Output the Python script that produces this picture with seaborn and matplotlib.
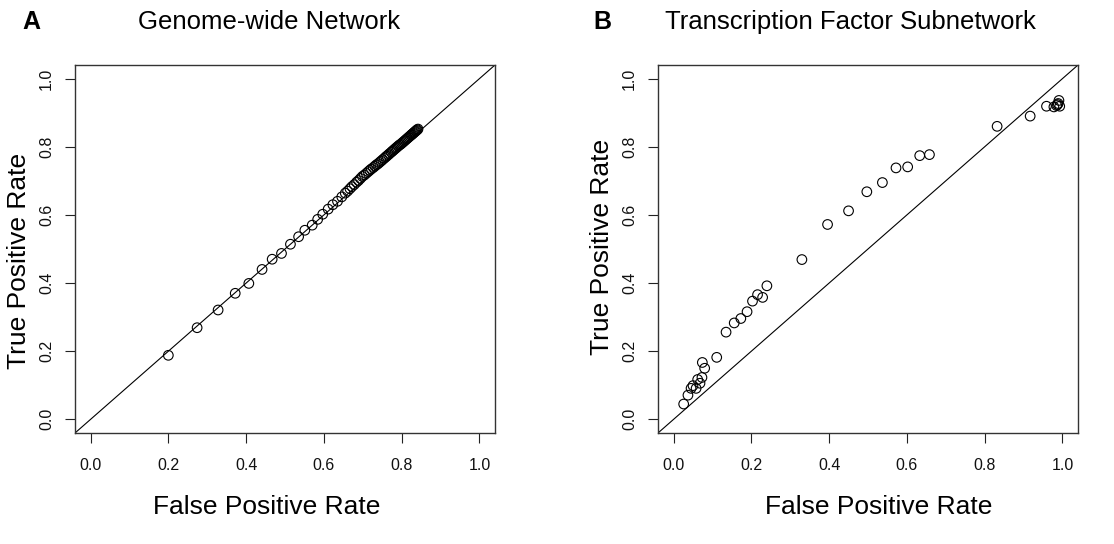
import matplotlib
matplotlib.use("Agg")
import matplotlib.pyplot as plt
import seaborn as sns
import pandas as pd

sns.set_theme(style="white")
plt.rcParams["font.family"] = ["Liberation Sans", "DejaVu Sans"]
plt.rcParams["text.color"] = "black"
plt.rcParams["axes.labelcolor"] = "black"
plt.rcParams["xtick.color"] = "black"
plt.rcParams["ytick.color"] = "black"

# ---- Data ----
genome_fpr = [0.200, 0.274, 0.328, 0.372, 0.407, 0.441, 0.467, 0.491, 0.514, 0.535,
              0.551, 0.570, 0.584, 0.597, 0.611, 0.623, 0.635, 0.646,
              0.655, 0.661, 0.667, 0.672, 0.678, 0.684, 0.689, 0.694, 0.699, 0.704,
              0.709, 0.714, 0.718, 0.722, 0.727, 0.731, 0.735, 0.739, 0.743, 0.747,
              0.751, 0.755, 0.759, 0.762, 0.766, 0.769, 0.773, 0.776, 0.779, 0.782,
              0.785, 0.788, 0.791, 0.794, 0.797, 0.800, 0.803, 0.806, 0.809, 0.812,
              0.815, 0.818, 0.821, 0.824, 0.826, 0.828, 0.830, 0.832, 0.834, 0.836,
              0.838, 0.840, 0.842]
genome_tpr = [0.188, 0.269, 0.321, 0.370, 0.399, 0.440, 0.470, 0.487, 0.514, 0.536,
              0.555, 0.570, 0.587, 0.602, 0.617, 0.630, 0.640, 0.653,
              0.664, 0.670, 0.677, 0.683, 0.689, 0.696, 0.701, 0.707, 0.713, 0.717,
              0.722, 0.727, 0.731, 0.735, 0.739, 0.743, 0.747, 0.750, 0.754, 0.758,
              0.762, 0.766, 0.770, 0.773, 0.777, 0.780, 0.784, 0.787, 0.790, 0.793,
              0.796, 0.799, 0.802, 0.805, 0.807, 0.810, 0.813, 0.816, 0.819, 0.822,
              0.825, 0.828, 0.831, 0.834, 0.836, 0.838, 0.840, 0.842, 0.844, 0.846,
              0.848, 0.850, 0.852]

tf_fpr = [0.026, 0.037, 0.045, 0.050, 0.058, 0.062, 0.068, 0.073, 0.074, 0.080,
          0.111, 0.135, 0.156, 0.173, 0.189, 0.203, 0.216, 0.229, 0.240, 0.330,
          0.396, 0.450, 0.497, 0.537, 0.572, 0.602, 0.633, 0.658, 0.832, 0.917,
          0.959, 0.978, 0.985, 0.989, 0.991, 0.993, 0.987]
tf_tpr = [0.045, 0.071, 0.091, 0.099, 0.091, 0.117, 0.106, 0.123, 0.167, 0.150,
          0.182, 0.256, 0.283, 0.296, 0.316, 0.347, 0.366, 0.358, 0.392, 0.469,
          0.572, 0.612, 0.668, 0.695, 0.738, 0.741, 0.774, 0.777, 0.860, 0.890,
          0.919, 0.917, 0.921, 0.927, 0.936, 0.919, 0.924]

tick_vals = [0.0, 0.2, 0.4, 0.6, 0.8, 1.0]
tick_labels = ["0.0", "0.2", "0.4", "0.6", "0.8", "1.0"]

panels = [
    dict(letter="A", title="Genome-wide Network", x=genome_fpr, y=genome_tpr,
         left=75, title_x=269.5, letter_x=31, xlab_x=0.457, ylab_y=0.467),
    dict(letter="B", title="Transcription Factor Subnetwork", x=tf_fpr, y=tf_tpr,
         left=658, title_x=850.5, letter_x=602, xlab_x=0.526, ylab_y=0.505),
]

W, H = 1114, 544
fig = plt.figure(figsize=(W / 100, H / 100), dpi=100)
fig.patch.set_facecolor("white")

ax_top, ax_bottom, ax_w = 65, 433, 420

for p in panels:
    ax = fig.add_axes([p["left"] / W, 1 - ax_bottom / H, ax_w / W, (ax_bottom - ax_top) / H])
    df = pd.DataFrame({"fpr": p["x"], "tpr": p["y"]})
    sns.scatterplot(data=df, x="fpr", y="tpr", ax=ax, s=48, marker="o",
                    facecolors="none", edgecolor="black", linewidth=0.8, zorder=3)
    ax.axline((0, 0), (1, 1), color="black", linewidth=0.8, zorder=2)
    ax.set_xlim(-0.04, 1.04)
    ax.set_ylim(-0.04, 1.04)
    ax.set_xticks(tick_vals)
    ax.set_xticklabels(tick_labels)
    ax.set_yticks(tick_vals)
    ax.set_yticklabels(tick_labels, rotation=90, va="center")
    ax.tick_params(axis="both", direction="out", length=7, width=0.8, colors="#222222",
                   labelsize=11.5, labelcolor="#111111")
    ax.tick_params(axis="x", pad=11)
    ax.tick_params(axis="y", pad=8)
    ax.tick_params(left=True, bottom=True)
    for s in ax.spines.values():
        s.set_color("#333333")
        s.set_linewidth(1.0)
        s.set_visible(True)
    ax.set_xlabel("False Positive Rate", fontsize=19, color="black")
    ax.set_ylabel("True Positive Rate", fontsize=19, color="black")
    ax.xaxis.set_label_coords(p["xlab_x"], -0.201)
    ax.xaxis.label.set_va("center")
    ax.yaxis.set_label_coords(-0.133, p["ylab_y"])
    ax.yaxis.label.set_va("center")
    ax.grid(False)
    fig.text(p["title_x"] / W, 1 - 22 / H, p["title"], ha="center", va="center",
             fontsize=18.5, color="black")
    fig.text(p["letter_x"] / W, 1 - 22 / H, p["letter"], ha="center", va="center",
             fontsize=18, fontweight="bold", color="black")

fig.savefig("out.png", dpi=100, facecolor="white")
